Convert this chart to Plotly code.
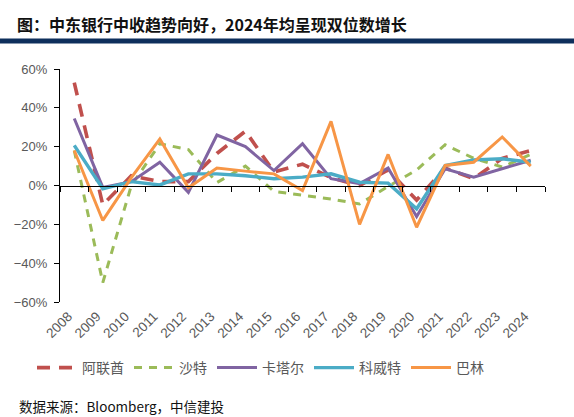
import plotly.graph_objects as go

years = [str(y) for y in range(2008, 2025)]

uae    = [53, -10, 5, 2, 2, 16.5, 28, 7, 11, 4, 0, 8, -7.5, 9, 3.5, 14, 18]
saudi  = [18, -50, 0, 21.5, 18.5, 1.5, 10, -3, -5, -7, -9.5, -0.5, 8, 21, 14, 9.5, 16]
qatar  = [34.5, -1, 2, 12, -3.5, 26, 20, 7.7, 21.5, 3.5, 1, 9, -16, 8.6, 4.3, 8.6, 13]
kuwait = [20.7, -1.7, 2, 0.3, 6, 6, 5, 3.5, 4.3, 6, 1.7, 1.2, -12, 10.3, 13.2, 13.8, 12]
bahrain = [18, -18, 4, 24, -1.2, 9, 7.4, 6, -2.6, 33, -20, 16, -21.5, 10.3, 12, 25, 10]

series_names = ["阿联酋", "沙特", "卡塔尔", "科威特", "巴林"]
series_vals = [uae, saudi, qatar, kuwait, bahrain]
colors = ["#C0504D", "#9BBB59", "#8064A2", "#4BACC6", "#F79646"]
dashes = ["13px,9px", "8px,7px", "solid", "solid", "solid"]
widths = [3.6, 3.0, 3.0, 3.4, 3.0]

y_ticks = [-60, -40, -20, 0, 20, 40, 60]
y_tick_labels = ["−60%", "−40%", "−20%", "0%", "20%", "40%", "60%"]

title_text = "图：中东银行中收趋势向好，2024年均呈现双位数增长"
source_text = "数据来源：Bloomberg，中信建投"

CJK = "Noto Sans CJK SC"
LAT = "Liberation Sans, Arial, sans-serif"

fig = go.Figure()
for name, vals, c, d, w in zip(series_names, series_vals, colors, dashes, widths):
    fig.add_trace(go.Scatter(
        x=years, y=vals, name=name, mode="lines",
        line=dict(color=c, width=w, dash=d),
        xaxis="x", yaxis="y",
    ))

# invisible trace to carry the bottom tick-label axis
fig.add_trace(go.Scatter(x=years, y=[None] * len(years), xaxis="x2", yaxis="y",
                         showlegend=False, hoverinfo="skip", mode="lines"))

L, R, T, B = 60, 29, 69, 115
W, H = 574, 417
pw, ph = W - L - R, H - T - B

def px_x(p):
    return (p - L) / pw

def px_y(p):
    return (H - B - p) / ph

fig.update_layout(
    width=W, height=H,
    margin=dict(l=L, r=R, t=T, b=B),
    paper_bgcolor="white", plot_bgcolor="white",
    showlegend=True,
    legend=dict(orientation="h", x=px_x(32), xanchor="left", y=px_y(368), yanchor="middle",
                font=dict(family=CJK, size=14, color="#595959"),
                bgcolor="rgba(0,0,0,0)", itemwidth=40, tracegroupgap=0),
    title=dict(text="<b>" + title_text + "</b>", x=17 / W, xanchor="left",
               y=1 - 25 / H, yanchor="middle", xref="container", yref="container",
               font=dict(family=CJK, size=16, color="#111111")),
    xaxis=dict(type="category", categoryorder="array", categoryarray=years,
               range=[-0.5, len(years) - 0.5],
               anchor="free", position=0.5,
               showline=True, linecolor="black", linewidth=1.2,
               ticks="outside", tickson="boundaries", ticklen=5, tickcolor="black", tickwidth=1.2,
               showticklabels=False, showgrid=False, zeroline=False),
    xaxis2=dict(type="category", categoryorder="array", categoryarray=years,
                range=[-0.5, len(years) - 0.5],
                overlaying="x", anchor="y", side="bottom",
                showline=False, ticks="", showgrid=False, zeroline=False,
                tickangle=-45, ticklabelshift=-6, ticklabelstandoff=3,
                tickfont=dict(family=LAT, size=13.5, color="#595959")),
    yaxis=dict(range=[-60, 60], tickvals=y_ticks, ticktext=y_tick_labels,
               showline=True, linecolor="black", linewidth=1.2,
               ticks="outside", ticklen=5, tickcolor="black", tickwidth=1.2,
               ticklabelstandoff=4,
               showgrid=False, zeroline=False,
               tickfont=dict(family=LAT, size=13, color="#595959")),
)

fig.add_shape(type="rect", xref="paper", yref="paper",
              x0=px_x(0), x1=px_x(W), y0=px_y(43.5), y1=px_y(38.5),
              fillcolor="#0E2F5C", line=dict(width=0), layer="above")

fig.add_annotation(text=source_text, xref="paper", yref="paper",
                   x=px_x(17), y=px_y(406), xanchor="left", yanchor="middle",
                   showarrow=False, font=dict(family=CJK, size=13.5, color="#111111"))

fig.write_html("out.html", config={"displayModeBar": False},
               post_script="document.body.style.margin='0';document.body.style.overflow='hidden';")
